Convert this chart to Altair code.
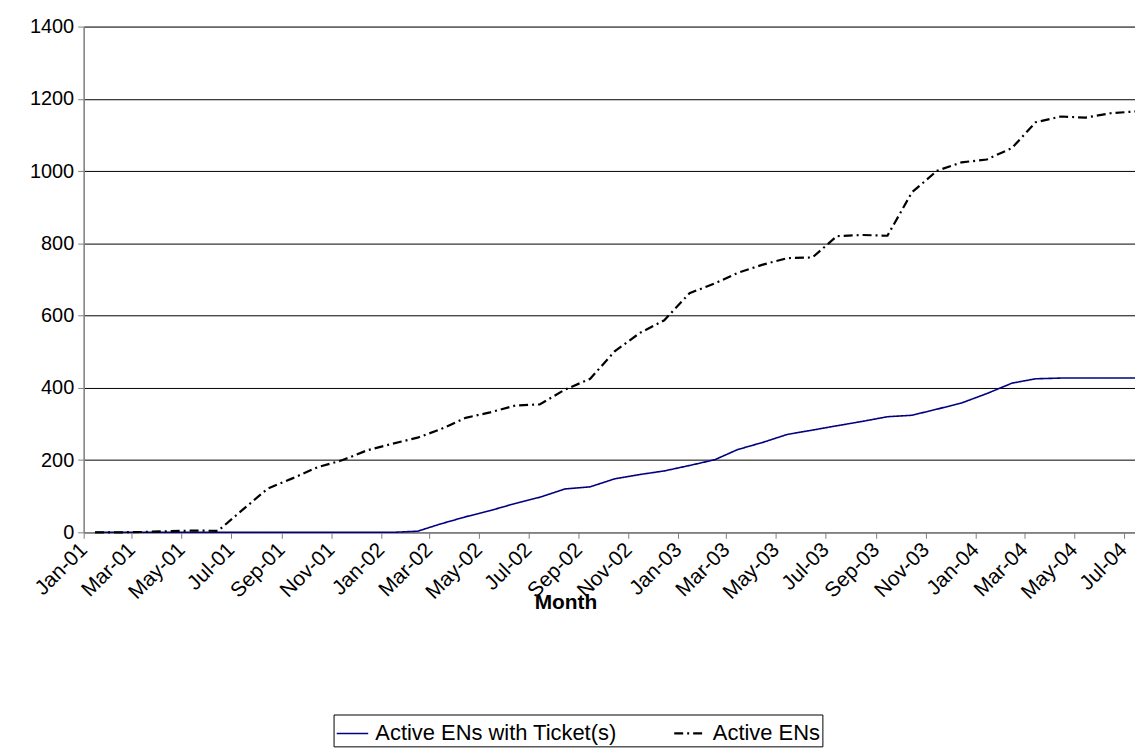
import altair as alt
import pandas as pd

# Month (mid-month dates), Jan-01 .. Jul-04
months = [
    "2001-01-15", "2001-02-15", "2001-03-15", "2001-04-15", "2001-05-15", "2001-06-15",
    "2001-07-15", "2001-08-15", "2001-09-15", "2001-10-15", "2001-11-15", "2001-12-15",
    "2002-01-15", "2002-02-15", "2002-03-15", "2002-04-15", "2002-05-15", "2002-06-15",
    "2002-07-15", "2002-08-15", "2002-09-15", "2002-10-15", "2002-11-15", "2002-12-15",
    "2003-01-15", "2003-02-15", "2003-03-15", "2003-04-15", "2003-05-15", "2003-06-15",
    "2003-07-15", "2003-08-15", "2003-09-15", "2003-10-15", "2003-11-15", "2003-12-15",
    "2004-01-15", "2004-02-15", "2004-03-15", "2004-04-15", "2004-05-15", "2004-06-15",
    "2004-07-15",
]

active_with_ticket = [
    0, 0, 0, 0, 0, 0, 0, 0, 0, 0, 0, 0,
    0, 3, 23, 43, 60, 80, 97, 120, 126, 148, 160, 170,
    185, 201, 229, 249, 271, 283, 295, 307, 320, 324, 341, 358,
    384, 413, 425, 427, 427, 427, 427,
]

active_ens = [
    0, 0, 1, 3, 5, 4, 62, 121, 150, 180, 200, 227,
    245, 262, 285, 317, 332, 351, 354, 395, 425, 501, 552, 587,
    662, 689, 718, 741, 759, 761, 820, 823, 821, 941, 1001, 1024,
    1032, 1064, 1135, 1151, 1148, 1160, 1165,
]

series_names = ["Active ENs with Ticket(s)", "Active ENs"]

# x-axis tick positions (every other month)
tick_years_months = [
    (2001, 1), (2001, 3), (2001, 5), (2001, 7), (2001, 9), (2001, 11),
    (2002, 1), (2002, 3), (2002, 5), (2002, 7), (2002, 9), (2002, 11),
    (2003, 1), (2003, 3), (2003, 5), (2003, 7), (2003, 9), (2003, 11),
    (2004, 1), (2004, 3), (2004, 5), (2004, 7),
]
y_ticks = [0, 200, 400, 600, 800, 1000, 1200, 1400]

rows = []
for m, v in zip(months, active_with_ticket):
    rows.append({"month": m, "value": v, "series": series_names[0]})
for m, v in zip(months, active_ens):
    rows.append({"month": m, "value": v, "series": series_names[1]})
df = pd.DataFrame(rows)

FONT = "Liberation Sans"

tick_values = [alt.DateTime(year=y, month=mo, date=1, utc=True) for y, mo in tick_years_months]

legend_cfg = dict(
    orient="none",
    legendX=251,
    legendY=691,
    direction="horizontal",
    title=None,
    strokeColor="black",
    padding=2,
    symbolType="stroke",
    symbolSize=1000,
    symbolStrokeWidth=1.6,
    labelFontSize=22,
    labelFont=FONT,
    labelColor="black",
    labelLimit=400,
    columnPadding=52,
    labelOffset=6,
)

chart = (
    alt.Chart(df)
    .mark_line()
    .encode(
        x=alt.X(
            "month:T",
            scale=alt.Scale(
                type="utc",
                domain=[
                    alt.DateTime(year=2001, month=1, date=1, utc=True),
                    alt.DateTime(year=2004, month=7, date=15, utc=True),
                ],
            ),
            axis=alt.Axis(
                values=tick_values,
                format="%b-%y",
                labelAngle=-45,
                labelAlign="right",
                labelBaseline="middle",
                labelPadding=8,
                labelFontSize=21,
                labelFont=FONT,
                labelColor="black",
                labelOverlap=False,
                tickColor="#808080",
                tickSize=6,
                domainColor="#808080",
                domainWidth=1.5,
                grid=False,
                title="Month",
                titleFont=FONT,
                titleFontSize=21,
                titleFontWeight="bold",
                titleColor="black",
                titleX=484,
                titleY=71,
                titleAlign="center",
                titleBaseline="middle",
            ),
        ),
        y=alt.Y(
            "value:Q",
            scale=alt.Scale(domain=[0, 1400], nice=False),
            axis=alt.Axis(
                values=y_ticks,
                format="d",
                labelFontSize=20,
                labelFont=FONT,
                labelColor="black",
                labelPadding=4,
                tickColor="#808080",
                tickSize=6,
                domainColor="#808080",
                domainWidth=1.5,
                grid=True,
                gridColor="black",
                gridWidth=1,
                title=None,
            ),
        ),
        color=alt.Color(
            "series:N",
            scale=alt.Scale(domain=series_names, range=["#000080", "#000000"]),
            legend=alt.Legend(**legend_cfg),
        ),
        strokeDash=alt.StrokeDash(
            "series:N",
            scale=alt.Scale(domain=series_names, range=[[1, 0], [9, 4, 2, 4]]),
            legend=alt.Legend(**legend_cfg),
        ),
        strokeWidth=alt.StrokeWidth(
            "series:N",
            scale=alt.Scale(domain=series_names, range=[1.6, 2.2]),
            legend=None,
        ),
    )
    .properties(
        width=1056,
        height=508,
        autosize=alt.AutoSizeParams(type="none"),
        padding={"left": 76, "top": 17, "right": 0, "bottom": 219},
    )
    .configure_view(stroke=None)
    .configure(background="white")
)

chart.save("out.html", embed_options={"renderer": "svg", "actions": False})
